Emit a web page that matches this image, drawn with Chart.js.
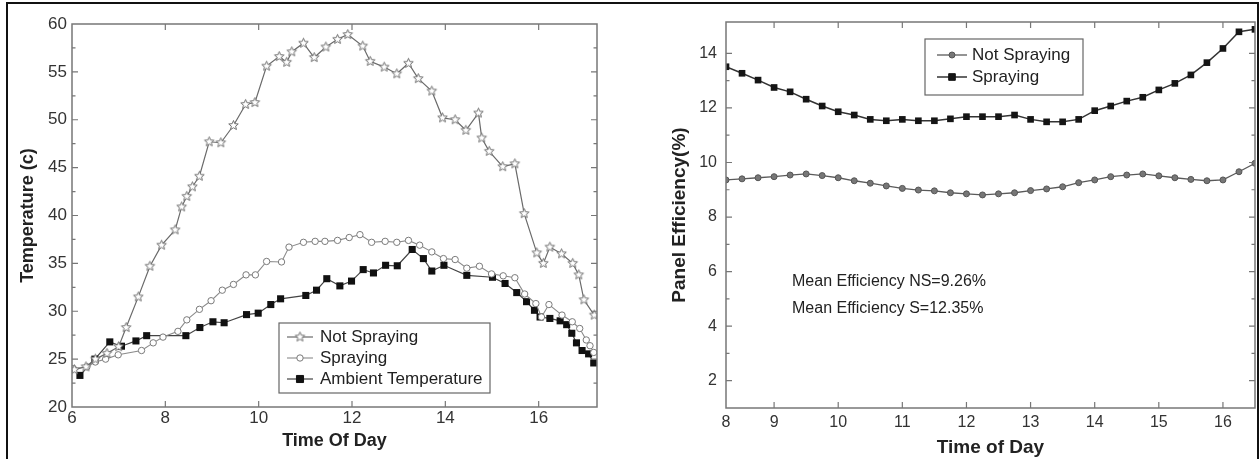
<!DOCTYPE html>
<html>
<head>
<meta charset="utf-8">
<title>Panel temperature and efficiency</title>
<script src="https://cdn.jsdelivr.net/npm/chart.js@4.4.1/dist/chart.umd.min.js"></script>
<style>
  html, body { margin: 0; padding: 0; background: #fff; }
  #frame { position: absolute; left: 6px; top: 2px; width: 1249px; height: 470px; border: 2px solid #111; border-bottom: none; }
  .panel { position: absolute; top: 0; height: 459px; }
  #left { left: 0; width: 630px; }
  #right { left: 630px; width: 629px; }
</style>
</head>
<body>
<div id="frame"></div>
<div class="panel" id="left"><canvas id="tempChart"></canvas></div>
<div class="panel" id="right"><canvas id="effChart"></canvas></div>
<script>
// ---- left panel: temperature (c) over the day
const nsTime = [6.05, 6.3, 6.5, 6.75, 7.0, 7.16, 7.42, 7.67, 7.92, 8.21, 8.35, 8.46, 8.58, 8.73, 8.94, 9.19, 9.46, 9.72, 9.92,
  10.17, 10.44, 10.6, 10.71, 10.96, 11.19, 11.44, 11.69, 11.91, 12.23, 12.39, 12.69, 12.96, 13.21, 13.42, 13.71, 13.94,
  14.21, 14.44, 14.71, 14.78, 14.94, 15.23, 15.49, 15.69, 15.96, 16.1, 16.24, 16.49, 16.73, 16.86, 16.97, 17.19];
const nsTemp = [23.9, 24.2, 25.0, 25.6, 26.3, 28.3, 31.5, 34.7, 36.9, 38.5, 40.9, 42.0, 43.0, 44.1, 47.7, 47.6, 49.4, 51.6, 51.8,
  55.6, 56.6, 56.0, 57.1, 58.0, 56.5, 57.6, 58.4, 58.9, 57.7, 56.1, 55.5, 54.8, 55.9, 54.3, 53.0, 50.2,
  50.0, 48.9, 50.7, 48.1, 46.7, 45.1, 45.4, 40.2, 36.1, 35.0, 36.7, 36.0, 35.0, 33.8, 31.2, 29.6];

const spTime = [6.03, 6.32, 6.5, 6.72, 6.99, 7.49, 7.74, 7.95, 8.27, 8.46, 8.73, 8.98, 9.22, 9.46, 9.73, 9.93,
  10.17, 10.49, 10.65, 10.96, 11.21, 11.42, 11.69, 11.94, 12.17, 12.42, 12.71, 12.96, 13.21, 13.45, 13.71, 13.96,
  14.21, 14.46, 14.73, 14.99, 15.24, 15.49, 15.7, 15.94, 16.06, 16.22, 16.5, 16.72, 16.88, 17.02, 17.1, 17.18];
const spTemp = [24.0, 24.2, 24.7, 25.0, 25.45, 25.9, 26.7, 27.3, 27.9, 29.1, 30.2, 31.1, 32.2, 32.8, 33.8, 33.8,
  35.2, 35.15, 36.7, 37.2, 37.3, 37.3, 37.4, 37.7, 38.0, 37.2, 37.3, 37.2, 37.4, 36.9, 36.2, 35.5,
  35.4, 34.5, 34.7, 33.9, 33.7, 33.5, 31.8, 30.8, 29.4, 30.7, 29.6, 28.9, 28.2, 27.0, 26.4, 25.7];

const ambTime = [6.17, 6.49, 6.81, 7.06, 7.37, 7.6, 8.44, 8.74, 9.02, 9.26, 9.74, 9.99, 10.26, 10.47, 11.01, 11.24,
  11.46, 11.74, 11.99, 12.24, 12.46, 12.72, 12.97, 13.29, 13.53, 13.71, 13.97, 14.46, 15.01, 15.28, 15.53, 15.74,
  15.91, 16.03, 16.24, 16.46, 16.6, 16.71, 16.81, 16.93, 17.07, 17.18];
const ambTemp = [23.3, 25.0, 26.8, 26.35, 26.9, 27.45, 27.45, 28.3, 28.9, 28.8, 29.65, 29.8, 30.7, 31.3, 31.65, 32.2,
  33.4, 32.65, 33.15, 34.35, 34.0, 34.8, 34.75, 36.45, 35.5, 34.2, 34.8, 33.75, 33.55, 32.9, 31.95, 31.0,
  30.1, 29.4, 29.25, 29.0, 28.6, 27.7, 26.7, 25.9, 25.55, 24.6];

const tempTicksX = [6, 8, 10, 12, 14, 16];
const tempTicksY = [20, 25, 30, 35, 40, 45, 50, 55, 60];

// ---- right panel: panel efficiency (%)
const effTime = [8.25, 8.5, 8.75, 9, 9.25, 9.5, 9.75, 10, 10.25, 10.5, 10.75, 11, 11.25, 11.5, 11.75, 12, 12.25,
  12.5, 12.75, 13, 13.25, 13.5, 13.75, 14, 14.25, 14.5, 14.75, 15, 15.25, 15.5, 15.75, 16, 16.25, 16.5];
const effNS = [9.36, 9.40, 9.44, 9.48, 9.54, 9.58, 9.52, 9.44, 9.33, 9.24, 9.14, 9.05, 8.99, 8.96, 8.89, 8.85, 8.81,
  8.85, 8.89, 8.97, 9.03, 9.11, 9.26, 9.36, 9.48, 9.54, 9.58, 9.51, 9.44, 9.38, 9.33, 9.36, 9.66, 9.97];
const effS = [13.51, 13.27, 13.02, 12.75, 12.59, 12.32, 12.07, 11.86, 11.74, 11.58, 11.53, 11.58, 11.53, 11.53, 11.6, 11.68, 11.68,
  11.68, 11.74, 11.58, 11.49, 11.49, 11.58, 11.90, 12.07, 12.25, 12.39, 12.66, 12.90, 13.21, 13.66, 14.18, 14.79, 14.88];
const effTicksX = [8.25, 9, 10, 11, 12, 13, 14, 15, 16];
const effTickLabelsX = ['8', '9', '10', '11', '12', '13', '14', '15', '16'];
const effTicksY = [2, 4, 6, 8, 10, 12, 14];
const noteLines = ['Mean Efficiency NS=9.26%', 'Mean Efficiency S=12.35%'];
const noteX = 9.28;
const noteY = [5.62, 4.63];

const FONT = '"Liberation Sans", Arial, sans-serif';

function pts(xs, ys) {
  return xs.map((x, i) => ({ x: x, y: ys[i] }));
}

// open five-point star, like the Origin marker
function starMarker(r, color) {
  const c = document.createElement('canvas');
  const s = Math.ceil(r * 2 + 3);
  c.width = c.height = s;
  const g = c.getContext('2d');
  g.beginPath();
  for (let i = 0; i < 10; i++) {
    const rad = i % 2 ? r * 0.45 : r;
    const a = -Math.PI / 2 + i * Math.PI / 5;
    const px = s / 2 + rad * Math.cos(a), py = s / 2 + rad * Math.sin(a);
    if (i) g.lineTo(px, py); else g.moveTo(px, py);
  }
  g.closePath();
  g.fillStyle = '#fff';
  g.fill();
  g.strokeStyle = color;
  g.lineWidth = 1;
  g.stroke();
  return c;
}

// box round the plot + inward ticks on all four sides
const framePlugin = {
  id: 'plotFrame',
  afterDraw(chart) {
    const { ctx, chartArea: a, scales } = chart;
    ctx.save();
    ctx.strokeStyle = '#777';
    ctx.lineWidth = 1.5;
    ctx.strokeRect(a.left, a.top, a.right - a.left, a.bottom - a.top);
    ctx.lineWidth = 1.2;
    ctx.beginPath();
    const xs = scales.x.ticks.map(t => t.value);
    xs.forEach(v => {
      const px = scales.x.getPixelForValue(v);
      if (px <= a.left + 2 || px >= a.right - 2) return;
      ctx.moveTo(px, a.bottom); ctx.lineTo(px, a.bottom - 6);
      ctx.moveTo(px, a.top); ctx.lineTo(px, a.top + 6);
    });
    const ys = scales.y.ticks.map(t => t.value);
    ys.forEach((v, i) => {
      const py = scales.y.getPixelForValue(v);
      if (py > a.top + 2 && py < a.bottom - 2) {
        ctx.moveTo(a.left, py); ctx.lineTo(a.left + 6, py);
        ctx.moveTo(a.right, py); ctx.lineTo(a.right - 6, py);
      }
      if (i < ys.length - 1) {
        const pm = scales.y.getPixelForValue((v + ys[i + 1]) / 2);
        ctx.moveTo(a.left, pm); ctx.lineTo(a.left + 3.5, pm);
        ctx.moveTo(a.right, pm); ctx.lineTo(a.right - 3.5, pm);
      }
    });
    ctx.stroke();
    ctx.restore();
  }
};

// legend in a box inside the plot, line + marker samples
const boxLegend = {
  id: 'boxLegend',
  afterDraw(chart, args, o) {
    const { ctx, chartArea: a } = chart;
    const x = a.left + o.x, y = a.top + o.y;
    ctx.save();
    ctx.fillStyle = '#fff';
    ctx.fillRect(x, y, o.w, o.h);
    ctx.strokeStyle = '#666';
    ctx.lineWidth = 1.2;
    ctx.strokeRect(x, y, o.w, o.h);
    ctx.font = o.font;
    ctx.textBaseline = 'middle';
    ctx.textAlign = 'left';
    chart.data.datasets.forEach((ds, i) => {
      const cy = y + o.first + i * o.row;
      ctx.strokeStyle = ds.borderColor;
      ctx.lineWidth = ds.borderWidth;
      ctx.beginPath();
      ctx.moveTo(x + o.lineX0, cy);
      ctx.lineTo(x + o.lineX1, cy);
      ctx.stroke();
      ctx.fillStyle = ds.pointBackgroundColor;
      ctx.strokeStyle = ds.pointBorderColor;
      ctx.lineWidth = 1;
      Chart.helpers.drawPoint(ctx, { pointStyle: ds.pointStyle, radius: ds.pointRadius, rotation: 0, borderWidth: 1 },
        x + (o.lineX0 + o.lineX1) / 2, cy);
      ctx.fillStyle = '#222';
      ctx.fillText(ds.label, x + o.textX, cy);
    });
    ctx.restore();
  }
};

const notesPlugin = {
  id: 'notes',
  afterDraw(chart, args, o) {
    if (!o.lines) return;
    const { ctx, scales } = chart;
    ctx.save();
    ctx.font = o.font;
    ctx.fillStyle = '#222';
    ctx.textBaseline = 'middle';
    o.lines.forEach((t, i) => {
      ctx.fillText(t, scales.x.getPixelForValue(o.x), scales.y.getPixelForValue(o.y[i]));
    });
    ctx.restore();
  }
};

function axisCommon(size) {
  return {
    grid: { display: false, drawTicks: false },
    border: { display: false },
    ticks: { color: '#333', font: { family: FONT, size: size } }
  };
}

// ---------------- temperature chart
const leftX = axisCommon(17);
leftX.type = 'linear';
leftX.min = 6;
leftX.max = 17.25;
leftX.ticks.padding = 1;
leftX.afterBuildTicks = s => { s.ticks = tempTicksX.map(v => ({ value: v })); };
leftX.afterFit = s => { s.height = 52; };
leftX.title = { display: true, text: 'Time Of Day', color: '#222', font: { family: FONT, size: 18, weight: 'bold' }, padding: { top: 0, bottom: 7 } };

const leftY = axisCommon(17);
leftY.min = 20;
leftY.max = 60;
leftY.ticks.padding = 5;
leftY.afterBuildTicks = s => { s.ticks = tempTicksY.map(v => ({ value: v })); };
leftY.afterFit = s => { s.width = 72; };
leftY.title = { display: true, text: 'Temperature (c)', color: '#222', font: { family: FONT, size: 18, weight: 'bold' }, padding: { top: 17, bottom: 0 } };

new Chart(document.getElementById('tempChart'), {
  type: 'scatter',
  data: {
    datasets: [{
      label: 'Not Spraying',
      data: pts(nsTime, nsTemp),
      showLine: true,
      borderColor: '#6a6a6a',
      borderWidth: 1.2,
      pointStyle: starMarker(5, '#707070'),
      pointRadius: 5,
      pointBackgroundColor: '#fff',
      pointBorderColor: '#707070'
    }, {
      label: 'Spraying',
      data: pts(spTime, spTemp),
      showLine: true,
      borderColor: '#8a8a8a',
      borderWidth: 1.1,
      pointStyle: 'circle',
      pointRadius: 3.2,
      pointBorderWidth: 1,
      pointBackgroundColor: '#fff',
      pointBorderColor: '#7a7a7a'
    }, {
      label: 'Ambient Temperature',
      data: pts(ambTime, ambTemp),
      showLine: true,
      borderColor: '#444',
      borderWidth: 1.2,
      pointStyle: 'rect',
      pointRadius: 5,
      pointBorderWidth: 0,
      pointBackgroundColor: '#111',
      pointBorderColor: '#111'
    }]
  },
  options: {
    responsive: true,
    maintainAspectRatio: false,
    animation: false,
    events: [],
    layout: { autoPadding: false, padding: { left: 0, top: 24, right: 33, bottom: 0 } },
    scales: { x: leftX, y: leftY },
    plugins: {
      legend: { display: false },
      tooltip: { enabled: false },
      boxLegend: { x: 207, y: 299, w: 211, h: 70, first: 14, row: 21, lineX0: 8, lineX1: 34, textX: 41, font: '17px ' + FONT }
    }
  },
  plugins: [framePlugin, boxLegend, notesPlugin]
});

// ---------------- efficiency chart
const rightX = axisCommon(16);
rightX.type = 'linear';
rightX.min = 8.25;
rightX.max = 16.5;
rightX.ticks.padding = 5;
rightX.ticks.callback = (v, i) => effTickLabelsX[i];
rightX.afterBuildTicks = s => { s.ticks = effTicksX.map(v => ({ value: v })); };
rightX.afterFit = s => { s.height = 51; };
rightX.title = { display: true, text: 'Time of Day', color: '#222', font: { family: FONT, size: 19, weight: 'bold' }, padding: { top: 0, bottom: 0 } };

const rightY = axisCommon(16);
rightY.min = 1;
rightY.max = 15.15;
rightY.ticks.padding = 9;
rightY.afterBuildTicks = s => { s.ticks = effTicksY.map(v => ({ value: v })); };
rightY.afterFit = s => { s.width = 96; };
rightY.title = { display: true, text: 'Panel Efficiency(%)', color: '#222', font: { family: FONT, size: 19, weight: 'bold' }, padding: { top: 38, bottom: 0 } };

new Chart(document.getElementById('effChart'), {
  type: 'scatter',
  data: {
    datasets: [{
      label: 'Not Spraying',
      data: pts(effTime, effNS),
      showLine: true,
      borderColor: '#5a5a5a',
      borderWidth: 1.3,
      pointStyle: 'circle',
      pointRadius: 3,
      pointBorderWidth: 1,
      pointBackgroundColor: '#777',
      pointBorderColor: '#555'
    }, {
      label: 'Spraying',
      data: pts(effTime, effS),
      showLine: true,
      borderColor: '#333',
      borderWidth: 1.5,
      pointStyle: 'rect',
      pointRadius: 4.7,
      pointBorderWidth: 0,
      pointBackgroundColor: '#151515',
      pointBorderColor: '#151515'
    }]
  },
  options: {
    responsive: true,
    maintainAspectRatio: false,
    animation: false,
    events: [],
    layout: { autoPadding: false, padding: { left: 0, top: 22, right: 4, bottom: 0 } },
    scales: { x: rightX, y: rightY },
    plugins: {
      legend: { display: false },
      tooltip: { enabled: false },
      boxLegend: { x: 199, y: 17, w: 158, h: 56, first: 16, row: 22, lineX0: 12, lineX1: 42, textX: 47, font: '17px ' + FONT },
      notes: { lines: noteLines, x: noteX, y: noteY, font: '16px ' + FONT }
    }
  },
  plugins: [framePlugin, boxLegend, notesPlugin]
});
</script>
</body>
</html>
